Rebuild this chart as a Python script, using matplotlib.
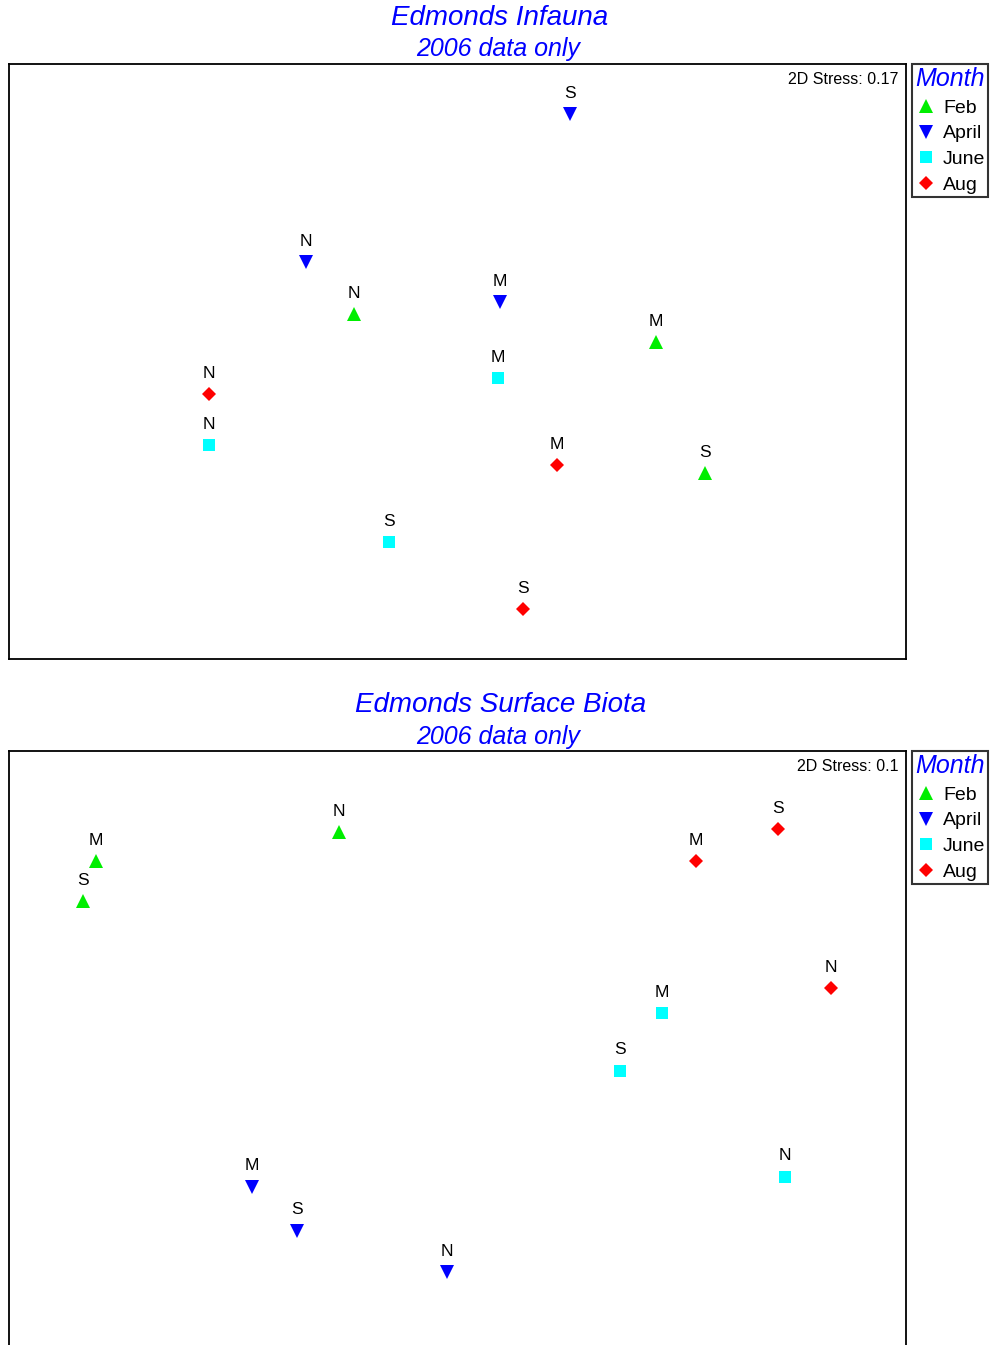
import matplotlib
matplotlib.use("Agg")
import matplotlib.pyplot as plt
from matplotlib.lines import Line2D

plt.rcParams['font.family'] = ['Liberation Sans', 'DejaVu Sans']

# Month groups and their styling
months = ["Feb", "April", "June", "Aug"]
month_markers = {"Feb": "^", "April": "v", "June": "s", "Aug": "D"}
month_colors = {"Feb": "#00ee00", "April": "#0000ff", "June": "#00ffff", "Aug": "#ff0000"}
month_sizes = {"Feb": 10, "April": 10, "June": 8.5, "Aug": 7.5}

# Site labels for each point (same order as coordinates)
infauna_sites = {
    "Feb": ["N", "M", "S"],
    "April": ["S", "N", "M"],
    "June": ["M", "N", "S"],
    "Aug": ["N", "M", "S"],
}
infauna_x = {
    "Feb": [38.46, 72.13, 77.59],
    "April": [62.54, 33.11, 54.74],
    "June": [54.51, 22.30, 42.36],
    "Aug": [22.30, 61.09, 57.30],
}
infauna_y = {
    "Feb": [57.98, 53.28, 31.26],
    "April": [91.60, 66.72, 60.00],
    "June": [47.23, 35.97, 19.66],
    "Aug": [44.54, 32.61, 8.40],
}

surface_sites = {
    "Feb": ["M", "S", "N"],
    "April": ["M", "S", "N"],
    "June": ["M", "S", "N"],
    "Aug": ["S", "M", "N"],
}
surface_x = {
    "Feb": [9.70, 8.25, 36.79],
    "April": [27.09, 32.11, 48.83],
    "June": [72.80, 68.12, 86.51],
    "Aug": [85.73, 76.59, 91.64],
}
surface_y = {
    "Feb": [81.51, 74.79, 86.39],
    "April": [26.89, 19.50, 12.61],
    "June": [55.97, 46.39, 28.57],
    "Aug": [86.89, 81.51, 60.17],
}

W, H = 992, 1345
fig = plt.figure(figsize=(W / 100, H / 100), dpi=100)


def px_axes(left, top, right, bottom):
    return fig.add_axes([left / W, 1 - bottom / H, (right - left) / W, (bottom - top) / H])


def draw_panel(ax, xs, ys, sites, stress):
    for m in months:
        ax.plot(xs[m], ys[m], linestyle="none", marker=month_markers[m],
                markersize=month_sizes[m], color=month_colors[m],
                markeredgewidth=0)
        for x, y, s in zip(xs[m], ys[m], sites[m]):
            ax.annotate(s, (x, y), xytext=(0, 15), textcoords="offset points",
                        ha="center", va="center", fontsize=12.5, color="black")
    ax.set_xlim(0, 100)
    ax.set_ylim(0, 100)
    ax.set_xticks([])
    ax.set_yticks([])
    for sp in ax.spines.values():
        sp.set_linewidth(1.3)
        sp.set_color("black")
    ax.text(0.992, 0.987, f"2D Stress: {stress}", transform=ax.transAxes,
            ha="right", va="top", fontsize=11.5)


def draw_legend(top_px):
    handles = [Line2D([], [], linestyle="none", marker=month_markers[m],
                      markersize=month_sizes[m] * 0.95, color=month_colors[m],
                      markeredgewidth=0) for m in months]
    leg = fig.legend(handles, months, loc="upper left",
                     bbox_to_anchor=(912 / W, 1 - top_px / H),
                     bbox_transform=fig.transFigure, frameon=True,
                     fancybox=False, borderaxespad=0, borderpad=0.15,
                     handlelength=1.15, handletextpad=0.3, labelspacing=0.42,
                     fontsize=14, title="Month",
                     title_fontproperties={"size": 18, "style": "italic"})
    leg.get_title().set_color("#0000ff")
    fr = leg.get_frame()
    fr.set_edgecolor("black")
    fr.set_linewidth(1.5)
    leg._legend_box.align = "left"


# Top panel
ax1 = px_axes(9, 64, 906, 659)
draw_panel(ax1, infauna_x, infauna_y, infauna_sites, "0.17")
fig.text(500 / W, 1 - 18 / H, "Edmonds Infauna", ha="center", va="center",
         fontsize=20, style="italic", color="#0000ff")
fig.text(498 / W, 1 - 49 / H, "2006 data only", ha="center", va="center",
         fontsize=18, style="italic", color="#0000ff")
draw_legend(64)

# Bottom panel (runs past the lower edge of the page)
ax2 = px_axes(9, 751, 906, 1347)
draw_panel(ax2, surface_x, surface_y, surface_sites, "0.1")
fig.text(501 / W, 1 - 705 / H, "Edmonds Surface Biota", ha="center", va="center",
         fontsize=20, style="italic", color="#0000ff")
fig.text(498 / W, 1 - 737 / H, "2006 data only", ha="center", va="center",
         fontsize=18, style="italic", color="#0000ff")
draw_legend(751)

fig.savefig("out.png", dpi=100)
